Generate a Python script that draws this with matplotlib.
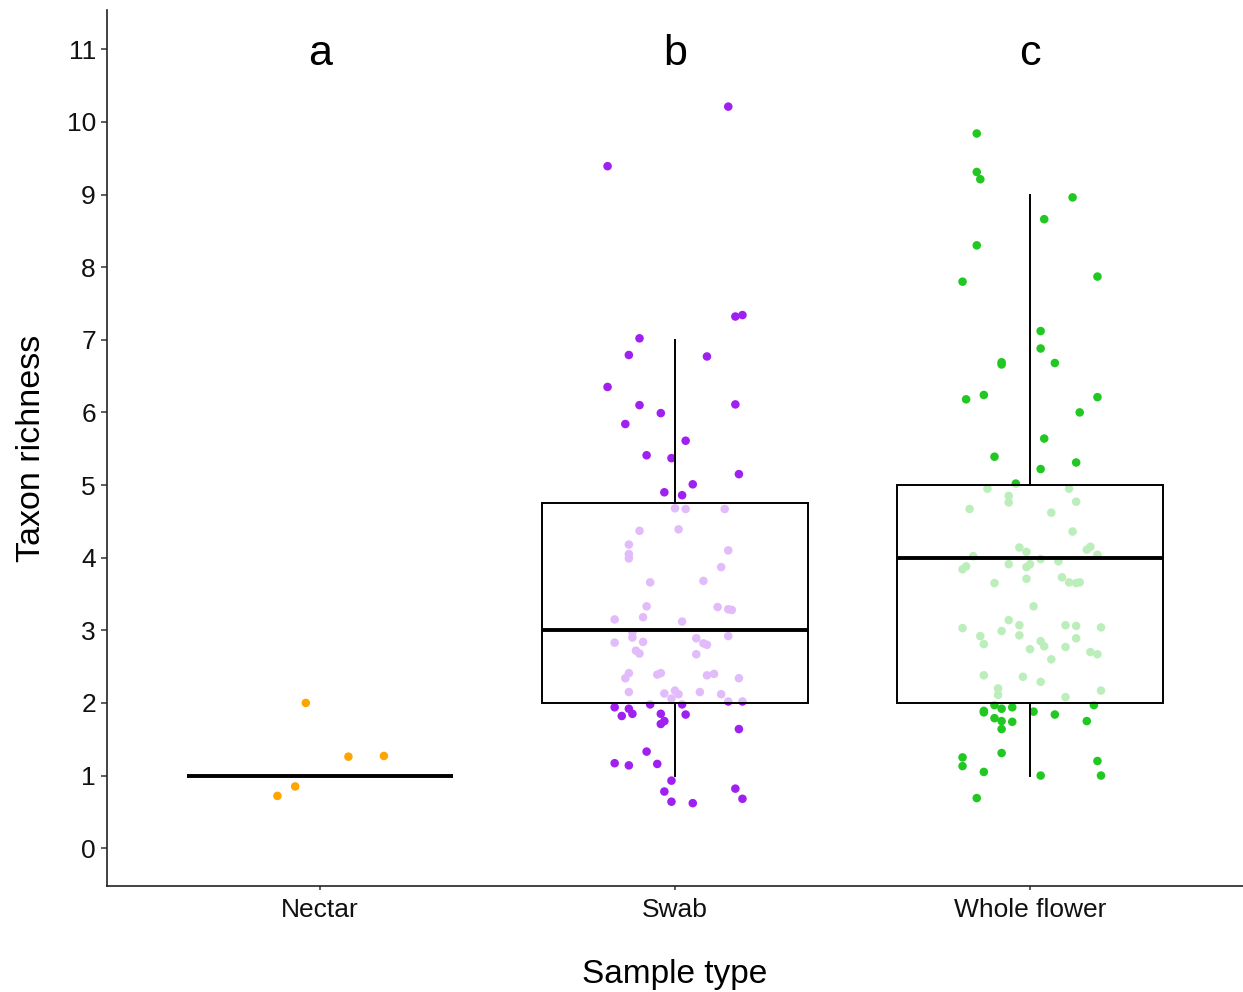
import numpy as np
import matplotlib
matplotlib.use("Agg")
import matplotlib.pyplot as plt

categories = ["Nectar", "Swab", "Whole flower"]
letters = ["a", "b", "c"]
colors = ["#FFA500", "#A020F0", "#22C822"]

# jittered points: x offset from category centre, y value
nectar_dx = [-0.04, 0.08, 0.18, -0.07, -0.12]
nectar_y = [2.00, 1.26, 1.27, 0.85, 0.72]

swab_dx = [0.15, -0.19, 0.17, 0.19, -0.10, -0.13, 0.09, -0.19, -0.10, -0.04,
           0.17, -0.14, 0.03, -0.08, -0.01, 0.18, 0.05, -0.03, 0.02, 0.00,
           0.03, 0.14, -0.10, 0.01, -0.13, -0.13, -0.13, 0.15, 0.13, -0.07,
           0.08, -0.08, 0.12, 0.15, 0.16, -0.17, -0.09, 0.02, -0.12, -0.12,
           -0.17, -0.09, 0.06, 0.15, 0.08, 0.09, -0.11, -0.10, 0.06, -0.13,
           -0.14, -0.05, -0.04, 0.09, 0.11, 0.18, -0.13, -0.03, 0.00, 0.01,
           0.07, 0.13, -0.01, 0.15, 0.19, -0.07, 0.02, -0.17, -0.13, -0.15,
           -0.12, -0.04, 0.03, -0.04, -0.03, 0.18, -0.08, -0.17, -0.13, -0.05,
           -0.01, -0.03, 0.17, 0.19, -0.01, 0.05]
swab_y = [10.21, 9.39, 7.32, 7.34, 7.02, 6.79, 6.77, 6.35, 6.10, 5.99,
          6.11, 5.84, 5.61, 5.41, 5.37, 5.15, 5.01, 4.90, 4.86, 4.68,
          4.67, 4.67, 4.37, 4.39, 4.18, 4.05, 3.99, 4.10, 3.87, 3.66,
          3.68, 3.33, 3.32, 3.29, 3.28, 3.15, 3.18, 3.12, 2.97, 2.90,
          2.83, 2.84, 2.89, 2.92, 2.82, 2.80, 2.72, 2.68, 2.67, 2.41,
          2.34, 2.39, 2.41, 2.38, 2.40, 2.34, 2.15, 2.13, 2.17, 2.12,
          2.15, 2.12, 2.06, 2.02, 2.02, 1.98, 1.98, 1.94, 1.92, 1.82,
          1.85, 1.85, 1.84, 1.71, 1.75, 1.64, 1.33, 1.17, 1.14, 1.16,
          0.93, 0.78, 0.82, 0.68, 0.64, 0.62]

flower_dx = [-0.15, -0.15, -0.14, 0.12, 0.04, -0.15, -0.19, 0.19, 0.03, 0.03,
             -0.08, -0.08, 0.07, -0.18, -0.13, 0.19, 0.14, 0.04, -0.10, 0.13,
             0.03, -0.04, -0.12, 0.11, -0.06, -0.06, 0.13, -0.17, 0.06, 0.12,
             -0.03, -0.01, 0.16, 0.17, -0.16, 0.19, 0.03, 0.08, -0.06, -0.01,
             0.00, -0.19, -0.18, 0.09, -0.01, 0.11, 0.13, 0.14, -0.10, 0.01,
             -0.06, -0.03, -0.19, -0.08, 0.10, 0.13, 0.20, -0.14, -0.13, -0.03,
             0.03, 0.04, 0.13, 0.10, 0.00, 0.17, 0.19, 0.06, -0.13, -0.02,
             0.03, -0.09, -0.09, 0.20, 0.10, -0.10, -0.13, -0.13, -0.08, -0.05,
             0.01, 0.07, 0.18, -0.10, -0.08, -0.05, 0.16, -0.08, -0.08, -0.19,
             -0.19, -0.13, 0.03, 0.19, 0.20, -0.15]
flower_y = [9.84, 9.31, 9.21, 8.96, 8.66, 8.30, 7.80, 7.87, 7.12, 6.88,
            6.66, 6.69, 6.68, 6.18, 6.24, 6.21, 6.00, 5.64, 5.39, 5.31,
            5.22, 5.02, 4.95, 4.95, 4.85, 4.76, 4.77, 4.67, 4.62, 4.36,
            4.14, 4.08, 4.11, 4.15, 4.02, 4.04, 3.98, 3.95, 3.91, 3.87,
            3.91, 3.84, 3.88, 3.73, 3.71, 3.66, 3.65, 3.66, 3.65, 3.33,
            3.14, 3.07, 3.03, 2.99, 3.07, 3.06, 3.04, 2.92, 2.81, 2.93,
            2.85, 2.78, 2.89, 2.77, 2.74, 2.70, 2.67, 2.60, 2.38, 2.36,
            2.29, 2.20, 2.11, 2.17, 2.08, 1.97, 1.87, 1.89, 1.92, 1.94,
            1.88, 1.84, 1.97, 1.79, 1.75, 1.74, 1.75, 1.64, 1.31, 1.25,
            1.13, 1.05, 1.00, 1.20, 1.00, 0.69]

# box summary (q1, median, q3, lower whisker, upper whisker)
q1 = [1, 2, 2]
med = [1, 3, 4]
q3 = [1, 4.75, 5]
whislo = [1, 1, 1]
whishi = [1, 7, 9]

fig = plt.figure(figsize=(12.43, 9.92), dpi=100)
ax = fig.add_axes([0.0861, 0.1069, 0.9139, 0.883])

groups = [(nectar_dx, nectar_y), (swab_dx, swab_y), (flower_dx, flower_y)]
for i, (dx, yy) in enumerate(groups):
    ax.scatter(np.array(dx) + i + 1, yy, s=38, color=colors[i],
               edgecolors="none", zorder=2)

stats = [dict(q1=q1[i], med=med[i], q3=q3[i], whislo=whislo[i],
              whishi=whishi[i], fliers=[]) for i in range(3)]
ax.bxp(stats, positions=[1, 2, 3], widths=0.75, showfliers=False,
       patch_artist=True, showcaps=False,
       boxprops=dict(facecolor=(1, 1, 1, 0.7), edgecolor="black", linewidth=1.4),
       medianprops=dict(color="black", linewidth=2.8),
       whiskerprops=dict(color="black", linewidth=1.4), zorder=3)

for i, l in enumerate(letters):
    ax.text(i + 1, 10.78, l, ha="center", va="baseline", fontsize=31,
            family="Liberation Sans")

ax.set_xlim(0.4, 3.6)
ax.set_ylim(-0.52, 11.54)
ax.set_yticks(range(0, 12))
ax.set_xticks([1, 2, 3])
ax.set_xticklabels(categories)
for lab in ax.get_xticklabels() + ax.get_yticklabels():
    lab.set_family("Liberation Sans")
    lab.set_fontsize(19)
    lab.set_color("#111111")
ax.tick_params(axis="y", length=4, width=1.1, color="#333333", pad=4)
ax.tick_params(axis="x", length=3, width=1.1, color="#333333", pad=6)

ax.set_ylabel("Taxon richness", fontsize=24.5, family="Liberation Sans",
              labelpad=14)
ax.set_xlabel("Sample type", fontsize=24, family="Liberation Sans", labelpad=26)

for s in ["top", "right"]:
    ax.spines[s].set_visible(False)
for s in ["left", "bottom"]:
    ax.spines[s].set_linewidth(1.2)
    ax.spines[s].set_color("#222222")

fig.savefig("out.png", dpi=100)
